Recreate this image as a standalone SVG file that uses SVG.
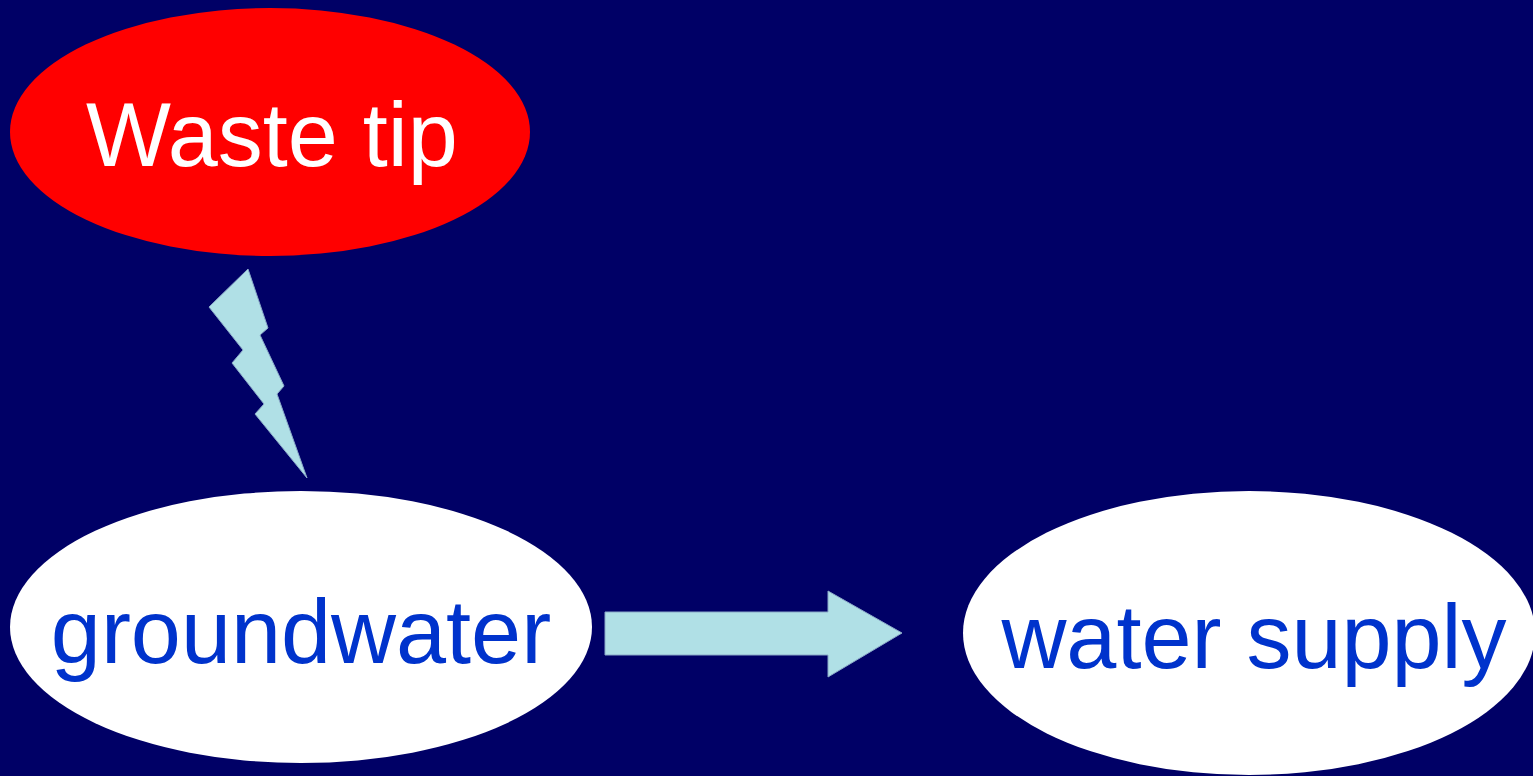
<svg xmlns="http://www.w3.org/2000/svg" width="1533" height="776" viewBox="0 0 1533 776">
<style>
text{font-family:"Liberation Sans",Arial,sans-serif;font-size:90px;text-anchor:middle}
.blue{fill:#0033CC}
.conn{fill:#B0E0E6;stroke:#8AA8C8;stroke-width:1}
</style>
<rect width="1533" height="776" fill="#000066"/>
<g id="waste-tip">
<ellipse cx="270" cy="132" rx="260" ry="124" fill="#FF0000"/>
<text x="272" y="166" fill="#FFFFFF">Waste tip</text>
</g>
<g id="groundwater">
<ellipse cx="301" cy="627" rx="291" ry="136" fill="#FFFFFF"/>
<text x="301" y="663" class="blue">groundwater</text>
</g>
<g id="water-supply">
<ellipse cx="1249" cy="633" rx="286" ry="142" fill="#FFFFFF"/>
<text x="1254" y="668" class="blue">water supply</text>
</g>
<g id="connectors">
<polygon class="conn" points="248,269 268,328 260,335 284,386 277,394 307,478 255,414 264,404 232,363 243,350 209,307" stroke="none"/>
<polygon class="conn" points="605,612 828,612 828,591 902,633 828,677 828,655 605,655"/>
</g>
</svg>
